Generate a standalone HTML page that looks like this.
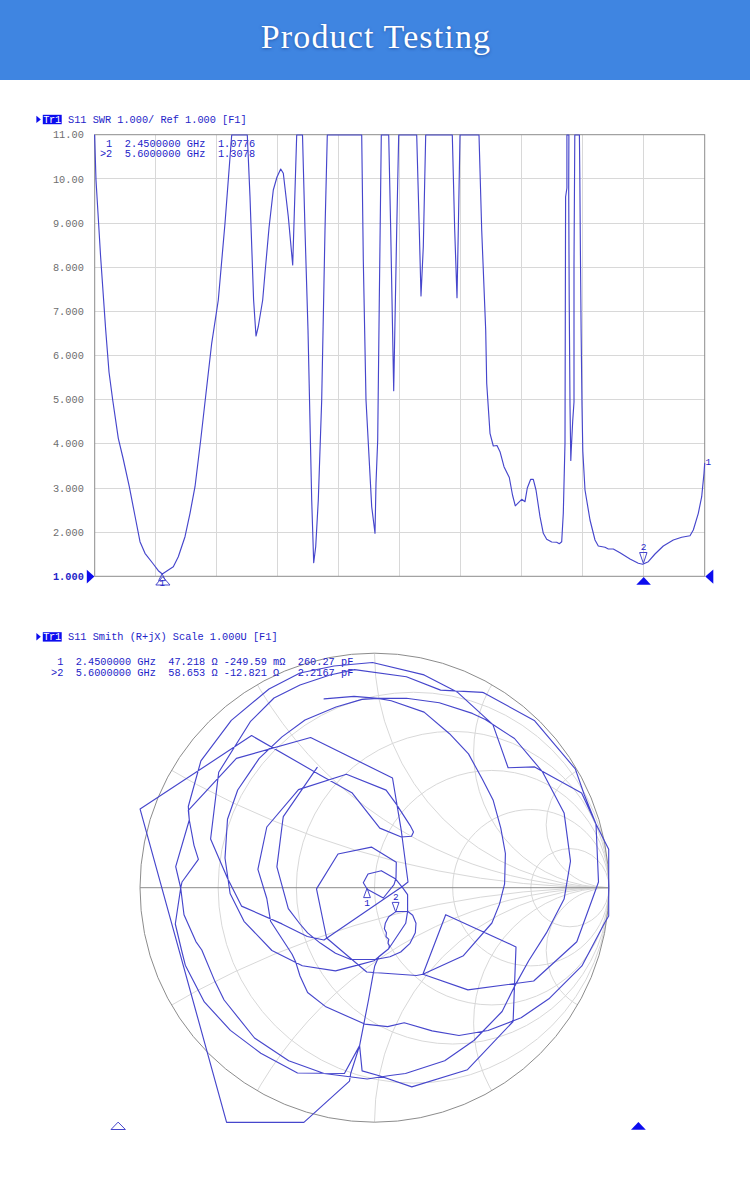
<!DOCTYPE html>
<html lang="en"><head><meta charset="utf-8"><title>Product Testing</title>
<style>
html,body{margin:0;padding:0;background:#fff;}
body{width:750px;height:1191px;overflow:hidden;position:relative;font-family:"Liberation Sans",sans-serif;}
.hdr{position:absolute;left:0;top:0;width:750px;height:80px;background:#3f85e1;}
.hdr h1{margin:0;position:absolute;left:0;top:17px;width:750px;text-align:center;font:normal 34px/40px "Liberation Serif",serif;color:#fff;text-shadow:0 1px 3px rgba(20,50,120,.55);letter-spacing:1.15px;padding-left:2px;box-sizing:border-box;}
svg{position:absolute;left:0;top:0;}
text{font-family:"Liberation Mono",monospace;font-size:10.28px;white-space:pre;}
.b{fill:#2424c8;}
.g{fill:#6e6e6e;}
.f{fill:#0c0cee;}
.tr{fill:none;stroke:#4646cc;stroke-width:1.15;stroke-linejoin:round;stroke-linecap:round;}
.gr{fill:none;stroke:#d8d8d8;stroke-width:1;}
.fr{fill:none;stroke:#8c8c8c;stroke-width:1;}
</style></head><body>
<div class="hdr"><h1>Product Testing</h1></div>
<svg width="750" height="1191" viewBox="0 0 750 1191">

<line class="gr" shape-rendering="crispEdges" x1="155.7" y1="134.7" x2="155.7" y2="576.3"/>
<line class="gr" shape-rendering="crispEdges" x1="94.7" y1="178.9" x2="704.7" y2="178.9"/>
<line class="gr" shape-rendering="crispEdges" x1="216.7" y1="134.7" x2="216.7" y2="576.3"/>
<line class="gr" shape-rendering="crispEdges" x1="94.7" y1="223.0" x2="704.7" y2="223.0"/>
<line class="gr" shape-rendering="crispEdges" x1="277.7" y1="134.7" x2="277.7" y2="576.3"/>
<line class="gr" shape-rendering="crispEdges" x1="94.7" y1="267.2" x2="704.7" y2="267.2"/>
<line class="gr" shape-rendering="crispEdges" x1="338.7" y1="134.7" x2="338.7" y2="576.3"/>
<line class="gr" shape-rendering="crispEdges" x1="94.7" y1="311.3" x2="704.7" y2="311.3"/>
<line class="gr" shape-rendering="crispEdges" x1="399.7" y1="134.7" x2="399.7" y2="576.3"/>
<line class="gr" shape-rendering="crispEdges" x1="94.7" y1="355.5" x2="704.7" y2="355.5"/>
<line class="gr" shape-rendering="crispEdges" x1="460.7" y1="134.7" x2="460.7" y2="576.3"/>
<line class="gr" shape-rendering="crispEdges" x1="94.7" y1="399.7" x2="704.7" y2="399.7"/>
<line class="gr" shape-rendering="crispEdges" x1="521.7" y1="134.7" x2="521.7" y2="576.3"/>
<line class="gr" shape-rendering="crispEdges" x1="94.7" y1="443.8" x2="704.7" y2="443.8"/>
<line class="gr" shape-rendering="crispEdges" x1="582.7" y1="134.7" x2="582.7" y2="576.3"/>
<line class="gr" shape-rendering="crispEdges" x1="94.7" y1="488.0" x2="704.7" y2="488.0"/>
<line class="gr" shape-rendering="crispEdges" x1="643.7" y1="134.7" x2="643.7" y2="576.3"/>
<line class="gr" shape-rendering="crispEdges" x1="94.7" y1="532.1" x2="704.7" y2="532.1"/>
<rect class="fr" x="94.7" y="134.7" width="610.0" height="441.6"/>
<text class="g" x="52.9" y="138.3" textLength="30.9">11.00</text>
<text class="g" x="52.9" y="182.5" textLength="30.9">10.00</text>
<text class="g" x="52.9" y="226.6" textLength="30.9">9.000</text>
<text class="g" x="52.9" y="270.8" textLength="30.9">8.000</text>
<text class="g" x="52.9" y="314.9" textLength="30.9">7.000</text>
<text class="g" x="52.9" y="359.1" textLength="30.9">6.000</text>
<text class="g" x="52.9" y="403.3" textLength="30.9">5.000</text>
<text class="g" x="52.9" y="447.4" textLength="30.9">4.000</text>
<text class="g" x="52.9" y="491.6" textLength="30.9">3.000</text>
<text class="g" x="52.9" y="535.7" textLength="30.9">2.000</text>
<text class="b" x="52.9" y="579.9" textLength="30.9" style="font-weight:bold">1.000</text>
<path class="f" d="M36.4 115.7 l4.4 3.7 l-4.4 3.7z"/>
<rect class="f" x="42.8" y="114.8" width="18.9" height="9.4"/>
<text x="43.2" y="122.7" textLength="18" style="fill:#fff">Tr1</text>
<text class="b" x="68" y="122.8" textLength="178.7">S11 SWR 1.000/ Ref 1.000 [F1]</text>
<text class="b" x="99.9" y="146.8" textLength="155.2" xml:space="preserve"> 1  2.4500000 GHz  1.0776</text>
<text class="b" x="99.9" y="157.2" textLength="155.2" xml:space="preserve">&gt;2  5.6000000 GHz  1.3078</text>
<polyline class="tr" points="94.6,135.0 96.0,180.0 100.5,255.0 105.7,330.0 109.0,372.0 112.7,400.0 118.3,438.3 123.0,458.0 129.3,486.7 135.0,516.0 140.0,541.7 145.0,553.3 153.3,564.0 158.3,570.7 162.3,574.0 173.3,566.7 178.3,556.7 185.0,536.7 190.0,513.3 195.0,486.7 200.7,440.0 206.0,393.3 211.7,343.3 218.3,300.0 225.0,223.3 231.7,135.0 247.3,135.0 250.0,196.7 253.6,300.0 256.0,336.0 258.3,326.5 262.7,300.0 265.0,273.0 269.0,228.0 273.3,190.0 277.0,177.0 280.7,169.0 283.3,173.3 288.3,216.7 292.7,265.0 294.3,213.3 296.7,135.0 302.5,135.0 305.0,230.0 308.0,330.0 311.7,500.0 313.7,562.7 315.7,546.7 318.3,500.0 321.7,400.0 325.0,230.0 327.3,135.0 361.7,135.0 363.3,260.0 366.0,400.0 371.7,506.7 375.0,533.3 376.0,483.3 377.7,440.0 379.3,300.0 381.3,135.0 388.7,135.0 390.7,230.0 393.7,390.7 396.7,230.0 398.7,135.0 416.7,135.0 419.3,230.0 421.0,296.0 423.3,246.7 425.7,135.0 452.3,135.0 454.7,230.0 457.0,297.7 458.3,230.0 460.0,135.0 479.0,135.0 481.7,230.0 485.7,330.0 486.7,383.3 490.0,433.3 493.3,446.0 497.0,445.5 500.0,451.7 504.0,466.7 509.3,477.5 512.5,495.0 515.3,505.8 521.7,499.3 525.0,501.7 527.3,488.0 530.7,479.3 533.3,479.3 536.0,490.0 540.0,516.7 543.3,533.3 546.7,539.3 551.7,542.0 556.7,542.3 559.3,543.7 561.7,541.7 563.3,513.3 565.0,442.7 565.3,320.0 565.6,197.0 566.9,188.0 566.9,135.0 568.9,135.0 568.7,188.8 569.2,298.0 570.0,405.0 570.8,460.5 571.2,451.0 572.7,421.0 574.0,402.0 574.0,264.0 574.8,135.0 579.4,135.0 579.8,173.6 580.4,251.0 581.1,328.5 582.0,405.8 582.8,451.0 585.0,490.0 590.0,520.0 595.0,540.0 598.3,546.0 605.0,547.3 608.3,549.0 613.3,549.0 620.0,552.7 630.0,559.0 638.3,563.3 642.7,564.3 648.3,561.7 655.0,554.0 663.3,546.0 673.3,540.0 681.7,537.3 690.0,535.7 693.3,530.0 698.3,513.3 701.7,496.7 704.0,473.3 704.7,463.3"/>
<path class="f" d="M86.8 569.8 L94.4 576.6 L86.8 583.4z"/>
<path class="f" d="M713.3 569.4 L705.3 576.5 L713.3 583.7z"/>
<path class="f" d="M643.7 577 L650.9 584.7 L636.3 584.7z"/>
<path class="tr" style="stroke-width:1" d="M162.3 574.2 L165.6 580.6 L159 580.6z"/>
<path class="tr" style="stroke-width:1" d="M162.9 577 L170 585 L156.2 585z"/>
<text class="b" x="159.4" y="586.4" style="font-size:9px">1</text>
<path class="tr" style="stroke-width:1" d="M640 552.5 L647 552.5 L643.5 563z"/>
<text class="b" x="640.8" y="550" style="font-size:9.4px">2</text>
<text class="b" x="705.6" y="465.2" style="font-size:9.4px">1</text>
<clipPath id="sc"><circle cx="374.5" cy="887.7" r="234.5"/></clipPath>
<g clip-path="url(#sc)">
<circle class="gr" cx="413.58" cy="887.70" r="195.42"/>
<circle class="gr" cx="452.67" cy="887.70" r="156.33"/>
<circle class="gr" cx="491.75" cy="887.70" r="117.25"/>
<circle class="gr" cx="530.83" cy="887.70" r="78.17"/>
<circle class="gr" cx="569.92" cy="887.70" r="39.08"/>
<circle class="gr" cx="609.00" cy="12.54" r="875.16"/>
<circle class="gr" cx="609.00" cy="1762.86" r="875.16"/>
<circle class="gr" cx="609.00" cy="481.53" r="406.17"/>
<circle class="gr" cx="609.00" cy="1293.87" r="406.17"/>
<circle class="gr" cx="609.00" cy="653.20" r="234.50"/>
<circle class="gr" cx="609.00" cy="1122.20" r="234.50"/>
<circle class="gr" cx="609.00" cy="752.31" r="135.39"/>
<circle class="gr" cx="609.00" cy="1023.09" r="135.39"/>
<circle class="gr" cx="609.00" cy="824.87" r="62.83"/>
<circle class="gr" cx="609.00" cy="950.53" r="62.83"/>
</g>
<circle class="fr" cx="374.5" cy="887.7" r="234.5"/>
<line class="fr" x1="140.0" y1="887.7" x2="609.0" y2="887.7"/>
<path class="f" d="M36.4 633.1 l4.4 3.7 l-4.4 3.7z"/>
<rect class="f" x="42.8" y="632.2" width="18.9" height="9.4"/>
<text x="43.2" y="640.1" textLength="18" style="fill:#fff">Tr1</text>
<text class="b" x="68" y="640.2" textLength="209.6">S11 Smith (R+jX) Scale 1.000U [F1]</text>
<text class="b" x="51" y="665.2" textLength="302.3" xml:space="preserve"> 1  2.4500000 GHz  47.218 Ω -249.59 mΩ  260.27 pF</text>
<text class="b" x="51" y="675.5" textLength="302.3" xml:space="preserve">&gt;2  5.6000000 GHz  58.653 Ω -12.821 Ω   2.2167 pF</text>
<polyline class="tr" points="324.1,698.9 354.0,696.4 378.0,698.4 391.2,700.7 424.1,712.1 449.5,733.7 468.5,753.9 482.4,779.3 493.2,800.3 500.8,828.1 505.4,853.5 504.6,883.9 499.5,904.1 491.9,923.0 463.4,955.7 422.9,974.2 416.5,975.5 366.7,972.0 326.6,938.0 316.5,888.9 338.0,854.0 371.4,847.1 396.3,862.3 396.0,878.0 394.0,884.7 383.3,898.0 367.3,889.3 363.3,882.7 368.0,874.0 381.3,870.7 395.3,878.7 403.3,888.7 407.6,894.7 407.6,911.3 405.7,923.3 388.7,948.7 374.0,960.7 359.5,964.6 335.5,970.9 302.3,965.7 271.9,950.5 244.0,921.3 230.1,893.5 225.0,858.0 227.5,819.2 237.7,790.0 259.2,758.4 282.0,736.9 305.0,720.0 336.0,707.0 362.0,699.4 378.0,698.4 406.4,698.2 439.3,702.8 472.3,713.4 485.3,719.5 492.9,724.6 514.5,738.5 542.3,771.5 564.1,812.9 570.5,861.1 564.1,899.1 546.4,932.9 528.7,960.8 514.7,986.1 502.1,1011.5 473.9,1040.5 444.7,1060.8 405.5,1073.5 390.0,1075.5 367.2,1079.0 324.1,1073.5 288.7,1060.8 254.5,1038.0 224.1,1000.0 214.5,980.4 201.8,950.0 195.9,941.6 184.0,914.7 180.7,888.0 175.7,866.7 189.3,820.0 188.3,806.5 200.9,760.9 231.3,720.4 269.0,689.0 300.0,673.0 334.0,666.0 372.5,662.5 424.1,674.9 457.1,691.9 492.9,724.6 500.5,746.1 508.1,767.7 534.7,766.9 544.9,772.7 581.6,793.0 596.0,824.0 598.5,882.0 592.0,900.0 576.8,941.8 533.7,981.0 467.9,989.9 422.9,974.2 445.7,914.7 516.0,946.9 513.1,1021.5 467.5,1069.7 411.8,1086.9 380.1,1076.0 362.1,1070.9 359.6,1045.6 344.4,1073.5 297.5,1073.0 260.8,1053.2 230.4,1030.4 204.3,1001.9 185.3,965.2 181.5,950.0 175.3,924.0 180.7,888.0 182.0,882.0 198.4,859.3 194.0,845.3 189.3,820.0 188.3,810.3 236.4,758.4 310.6,737.5 392.5,778.0 401.3,830.7 408.0,882.0 402.0,886.7 324.0,940.0 307.3,936.5 282.0,923.9 241.5,906.1 227.5,878.3 210.6,839.0 218.7,772.3 250.3,721.7 274.0,698.0 300.0,685.0 330.0,675.0 354.5,669.6 406.4,676.7 440.6,690.1 482.4,692.4 484.1,692.9 534.7,720.8 575.3,768.9 584.1,794.3 596.0,824.0 604.0,840.0 608.7,849.3 608.7,916.0 604.7,922.8 581.9,965.9 548.9,998.8 521.1,1017.8 488.1,1030.5 459.0,1035.5 432.1,1030.9 404.2,1022.8 387.7,1026.6 364.7,1024.1 325.3,1006.4 307.6,992.5 300.0,976.0 295.5,961.4 292.1,954.3 270.6,921.3 266.8,898.5 257.9,869.4 266.8,827.0 298.5,789.6 346.4,774.2 386.1,790.1 396.3,804.1 410.2,825.6 413.5,831.9 411.5,836.2 401.3,837.0 379.8,828.1 351.9,792.7 320.0,774.9 251.6,735.6 140.1,809.1 226.6,1122.4 303.9,1122.4 349.5,1081.1 350.7,1073.5 359.6,1045.6 368.5,1000.0 372.7,976.7 374.7,966.0 378.7,956.7 388.7,948.7 389.4,946.0 388.0,943.3 388.8,939.4 386.0,936.6 386.4,932.7 384.4,928.7 385.3,923.3 388.7,916.7 396.0,911.6 407.6,911.3 412.7,915.3 416.0,923.3 415.3,932.7 410.0,943.3 400.7,952.0 390.0,956.7 376.7,959.3 350.7,959.5 335.5,953.2 320.3,943.1 307.6,932.9 300.0,924.0 288.3,908.7 276.9,866.9 282.8,820.0 283.3,816.7 317.2,767.4"/>
<path class="tr" style="stroke-width:1" d="M367.2 888.6 L370.4 897.6 L364 897.6z"/>
<text class="b" x="364.3" y="905.6" style="font-size:9.4px">1</text>
<path class="tr" style="stroke-width:1" d="M392.6 902.4 L399 902.4 L395.8 911.6z"/>
<text class="b" x="393" y="900.3" style="font-size:9.4px">2</text>
<path class="tr" style="stroke-width:1" d="M118.4 1122.4 L125.4 1129.5 L111.4 1129.5z"/>
<path class="f" d="M638.4 1122 L645.8 1129.8 L631 1129.8z"/>
</svg></body></html>
